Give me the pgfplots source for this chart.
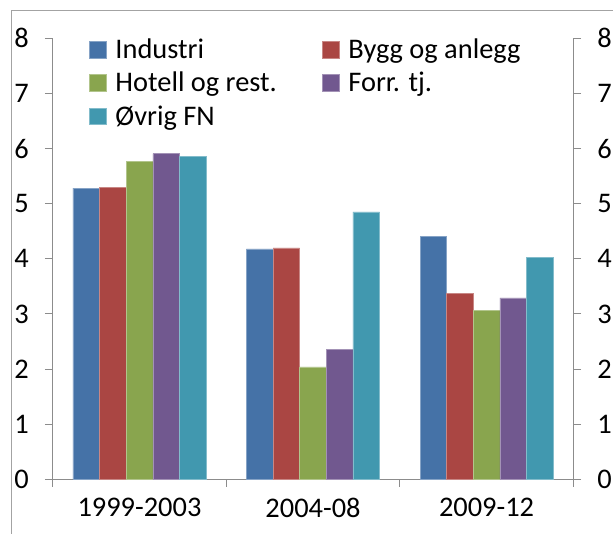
\documentclass[border=0pt]{standalone}
\usepackage{fontspec}
\setmainfont{Carlito}
\usepackage{pgfplots}
\pgfplotsset{compat=1.18}
\definecolor{cInd}{HTML}{4572A7}
\definecolor{cByg}{HTML}{AA4643}
\definecolor{cHot}{HTML}{89A54E}
\definecolor{cFor}{HTML}{71588F}
\definecolor{cOvr}{HTML}{4198AF}
\definecolor{axgray}{HTML}{8C8C8C}
\newcommand\chartfont{\fontsize{21.3}{25}\selectfont}
\begin{document}
\chartfont
\begin{tikzpicture}[x=1pt,y=1pt]
\path[use as bounding box] (0,0) rectangle (459.75,400.5);
\draw[axgray!80, line width=0.75pt] (8.25,0) -- (8.25,392.25) -- (459.75,392.25);
\pgfplotsset{
  frameaxis/.style={
    at={(39.525pt,41.025pt)}, anchor=south west,
    scale only axis, width=390.45pt, height=330.75pt,
    ymin=0, ymax=8, xmin=-0.5, xmax=2.5,
    ytick={0,1,...,8},
    tick align=outside,
    major tick length=5.8pt,
    minor tick length=5.5pt,
    axis line style={axgray, line width=0.75pt},
    tick style={axgray, line width=0.75pt},
    /pgf/number format/assume math mode=true,
    ticklabel style={font=\chartfont, inner sep=0pt},
  },
}
\begin{axis}[
  frameaxis,
  axis x line*=bottom, axis y line*=left,
  xtick={0,1,2}, xticklabels={1999-2003,2004-08,2009-12},
  minor xtick={-0.5,0.5,1.5,2.5},
  major x tick style={draw=none},
  yticklabel style={xshift=-12pt},
  xticklabel style={yshift=-8pt},
  ybar=0pt, bar width=0.1533,
  legend columns=2, legend cell align=left,
  legend style={at={(rel axis cs:0.0703,1.0084)}, anchor=north west,
    draw=none, fill=none, inner sep=0pt, outer sep=0pt,
    column sep=0pt, row sep=0pt,
    font=\chartfont,
    nodes={inner sep=0pt, text height=18pt, text depth=7pt},
    /tikz/every odd column/.append style={column sep=6.75pt},
    /tikz/every even column/.append style={column sep=34pt}},
  legend image code/.code={\fill[#1] (0pt,-4.9pt) rectangle (12.5pt,7.6pt);},
]
% order: 1999-2003, 2004-08, 2009-12
\addplot[fill=cInd, draw=cInd!65!white, line width=0.4pt] coordinates {(0,5.28) (1,4.18) (2,4.40)};
\addplot[fill=cByg, draw=cByg!65!white, line width=0.4pt] coordinates {(0,5.30) (1,4.20) (2,3.37)};
\addplot[fill=cHot, draw=cHot!65!white, line width=0.4pt] coordinates {(0,5.77) (1,2.04) (2,3.07)};
\addplot[fill=cFor, draw=cFor!65!white, line width=0.4pt] coordinates {(0,5.91) (1,2.35) (2,3.29)};
\addplot[fill=cOvr, draw=cOvr!65!white, line width=0.4pt] coordinates {(0,5.86) (1,4.85) (2,4.03)};
\legend{Industri, Bygg og anlegg, Hotell og rest., Forr. tj., Øvrig FN}
\end{axis}
% right-hand axis, same scale
\begin{axis}[
  frameaxis,
  axis x line=none, axis y line*=right,
  yticklabel style={xshift=12pt},
]
\end{axis}
\end{tikzpicture}
\end{document}
